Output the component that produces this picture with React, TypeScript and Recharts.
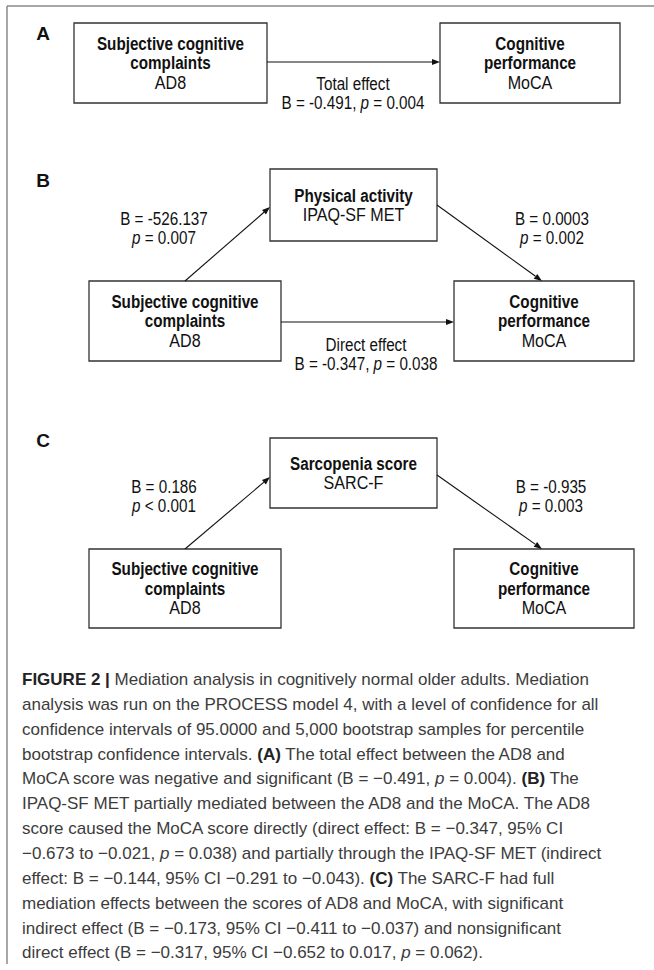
import React from 'react';
import { ScatterChart, Scatter, XAxis, YAxis, ReferenceArea, ReferenceLine } from 'recharts';

const FONT = '"Liberation Sans", Arial, Helvetica, sans-serif';
const W = 654;
const H = 970;
const NARROW = 0.87;

// ---------- content ----------
const panelLetters = ['A', 'B', 'C'];

const variableNames: string[][] = [
  ['Subjective cognitive', 'complaints'],
  ['Cognitive', 'performance'],
  ['Physical activity'],
  ['Sarcopenia score'],
];
const variableCodes = ['AD8', 'MoCA', 'IPAQ-SF MET', 'SARC-F'];

// path coefficients (A total, B a, B b, B direct, C a, C b)
const pathHeads = ['Total effect', '', '', 'Direct effect', '', ''];
const pathB = ['-0.491', '-526.137', '0.0003', '-0.347', '0.186', '-0.935'];
const pathP = ['= 0.004', '= 0.007', '= 0.002', '= 0.038', '< 0.001', '= 0.003'];

const captionLines = [
  '**FIGURE 2 |** Mediation analysis in cognitively normal older adults. Mediation',
  'analysis was run on the PROCESS model 4, with a level of confidence for all',
  'confidence intervals of 95.0000 and 5,000 bootstrap samples for percentile',
  'bootstrap confidence intervals. **(A)** The total effect between the AD8 and',
  'MoCA score was negative and significant (B = \u22120.491, *p* = 0.004). **(B)** The',
  'IPAQ-SF MET partially mediated between the AD8 and the MoCA. The AD8',
  'score caused the MoCA score directly (direct effect: B = \u22120.347, 95% CI',
  '\u22120.673 to \u22120.021, *p* = 0.038) and partially through the IPAQ-SF MET (indirect',
  'effect: B = \u22120.144, 95% CI \u22120.291 to \u22120.043). **(C)** The SARC-F had full',
  'mediation effects between the scores of AD8 and MoCA, with significant',
  'indirect effect (B = \u22120.173, 95% CI \u22120.411 to \u22120.037) and nonsignificant',
  'direct effect (B = \u22120.317, 95% CI \u22120.652 to 0.017, *p* = 0.062).',
];

// ---------- layout (diagram coordinates) ----------
const panelLetterLayout = [
  { x: 43, y: 33 },
  { x: 43, y: 180 },
  { x: 43, y: 440 },
];

const boxLayout = [
  { v: 0, x1: 74, x2: 267, y1: 23, y2: 103 },
  { v: 1, x1: 440, x2: 620, y1: 23, y2: 103 },
  { v: 2, x1: 270, x2: 437, y1: 169, y2: 241 },
  { v: 0, x1: 89, x2: 281, y1: 281, y2: 361 },
  { v: 1, x1: 454, x2: 634, y1: 281, y2: 361 },
  { v: 3, x1: 270, x2: 437, y1: 438, y2: 508 },
  { v: 0, x1: 89, x2: 281, y1: 549, y2: 628 },
  { v: 1, x1: 454, x2: 634, y1: 549, y2: 628 },
];

const arrowLayout = [
  { x1: 267, y1: 62, x2: 440, y2: 62 },
  { x1: 185, y1: 281, x2: 270, y2: 207 },
  { x1: 437, y1: 205, x2: 542, y2: 281 },
  { x1: 281, y1: 322, x2: 454, y2: 322 },
  { x1: 185, y1: 549, x2: 270, y2: 477 },
  { x1: 437, y1: 475, x2: 542, y2: 549 },
];

const labelLayout = [
  { x: 353, y: 93 },
  { x: 164, y: 228 },
  { x: 552, y: 228 },
  { x: 366, y: 354 },
  { x: 164, y: 496 },
  { x: 551, y: 496 },
];

const frameLayout = [
  { x1: 7, y1: 6, x2: 654, y2: 6 },
  { x1: 7, y1: 6, x2: 7, y2: 964 },
];

const CAPTION_X = 22;
const CAPTION_TOP = 679;
const CAPTION_LEAD = 24.85;

// ---------- derived chart data ----------
const letterData = panelLetters.map((t, i) => ({ ...panelLetterLayout[i], text: t }));
const boxTextData = boxLayout.map((b) => ({
  x: (b.x1 + b.x2) / 2,
  y: (b.y1 + b.y2) / 2,
  name: variableNames[b.v],
  code: variableCodes[b.v],
}));
const pathLabelData = pathB.map((b, i) => ({
  ...labelLayout[i],
  lines: pathHeads[i]
    ? [pathHeads[i], `B = ${b}, *p* ${pathP[i]}`]
    : [`B = ${b}`, `*p* ${pathP[i]}`],
}));
const captionData = captionLines.map((s, i) => ({ x: CAPTION_X, y: CAPTION_TOP + i * CAPTION_LEAD, s }));

// ---------- renderers ----------
const rich = (s: string, boldFill?: string) =>
  s
    .split(/(\*\*[^*]+\*\*|\*[^*]+\*)/)
    .filter((seg) => seg.length > 0)
    .map((seg, i) => {
      if (seg.startsWith('**'))
        return (
          <tspan key={i} fontWeight={700} fill={boldFill}>
            {seg.slice(2, -2)}
          </tspan>
        );
      if (seg.startsWith('*'))
        return (
          <tspan key={i} fontStyle="italic">
            {seg.slice(1, -1)}
          </tspan>
        );
      return <tspan key={i}>{seg}</tspan>;
    });

const renderLetter = (props: any) => {
  const { cx, cy, payload } = props;
  return (
    <text x={cx} y={cy} textAnchor="middle" dominantBaseline="central" fontFamily={FONT} fontSize={19} fontWeight={700} fill="#111">
      {payload.text}
    </text>
  );
};

const NarrowText = ({ x, y, size, weight, children }: any) => (
  <text
    transform={`translate(${x} ${y}) scale(${NARROW} 1)`}
    x={0}
    y={0}
    textAnchor="middle"
    dominantBaseline="central"
    fontFamily={FONT}
    fontSize={size}
    fontWeight={weight}
    fill="#111"
    style={{ whiteSpace: 'pre' }}
  >
    {children}
  </text>
);

const renderBoxText = (props: any) => {
  const { cx, cy, payload } = props;
  const lines = [
    ...payload.name.map((t: string) => ({ t, bold: true })),
    { t: payload.code, bold: false },
  ];
  const n = lines.length;
  return (
    <g>
      {lines.map((l: any, i: number) => (
        <NarrowText key={i} x={cx} y={cy + (i - (n - 1) / 2) * 19.5} size={l.bold ? 17.5 : 18.5} weight={l.bold ? 700 : 400}>
          {l.t}
        </NarrowText>
      ))}
    </g>
  );
};

const renderPathLabel = (props: any) => {
  const { cx, cy, payload } = props;
  const n = payload.lines.length;
  return (
    <g>
      {payload.lines.map((s: string, i: number) => (
        <NarrowText key={i} x={cx} y={cy + (i - (n - 1) / 2) * 19} size={17.5} weight={400}>
          {rich(s)}
        </NarrowText>
      ))}
    </g>
  );
};

const renderCaption = (props: any) => {
  const { cx, cy, payload } = props;
  return (
    <text
      x={cx}
      y={cy}
      textAnchor="start"
      dominantBaseline="central"
      fontFamily={FONT}
      fontSize={17}
      fill="#3c3c3c"
      style={{ whiteSpace: 'pre' }}
    >
      {rich(payload.s, '#222')}
    </text>
  );
};

const ArrowShape = (props: any) => {
  const { x1, y1, x2, y2 } = props;
  const ang = Math.atan2(y2 - y1, x2 - x1);
  const L = 8;
  const hw = 3;
  const bx = x2 - L * Math.cos(ang);
  const by = y2 - L * Math.sin(ang);
  const px = -Math.sin(ang) * hw;
  const py = Math.cos(ang) * hw;
  return (
    <g>
      <line x1={x1} y1={y1} x2={bx} y2={by} stroke="#111" strokeWidth={1.1} />
      <polygon points={`${x2},${y2} ${bx + px},${by + py} ${bx - px},${by - py}`} fill="#111" />
    </g>
  );
};

export default function App() {
  return (
    <div style={{ position: 'absolute', left: 0, top: 0, width: W, height: H, background: '#fff' }}>
      <ScatterChart width={W} height={H} margin={{ top: 0, right: 0, bottom: 0, left: 0 }}>
        <XAxis type="number" dataKey="x" domain={[0, W]} allowDataOverflow hide />
        <YAxis type="number" dataKey="y" domain={[0, H]} allowDataOverflow reversed hide />
        {frameLayout.map((f, i) => (
          <ReferenceLine
            key={`f${i}`}
            segment={[{ x: f.x1, y: f.y1 }, { x: f.x2, y: f.y2 }]}
            stroke="#8a8a8a"
            strokeWidth={1.5}
            ifOverflow="extendDomain"
          />
        ))}
        {boxLayout.map((b, i) => (
          <ReferenceArea
            key={`b${i}`}
            x1={b.x1}
            x2={b.x2}
            y1={b.y1}
            y2={b.y2}
            fill="#fff"
            fillOpacity={1}
            stroke="#333"
            strokeWidth={1.3}
            ifOverflow="extendDomain"
          />
        ))}
        {arrowLayout.map((a, i) => (
          <ReferenceLine
            key={`a${i}`}
            segment={[{ x: a.x1, y: a.y1 }, { x: a.x2, y: a.y2 }]}
            shape={ArrowShape}
            ifOverflow="extendDomain"
          />
        ))}
        <Scatter data={letterData} shape={renderLetter} isAnimationActive={false} />
        <Scatter data={boxTextData} shape={renderBoxText} isAnimationActive={false} />
        <Scatter data={pathLabelData} shape={renderPathLabel} isAnimationActive={false} />
        <Scatter data={captionData} shape={renderCaption} isAnimationActive={false} />
      </ScatterChart>
    </div>
  );
}
